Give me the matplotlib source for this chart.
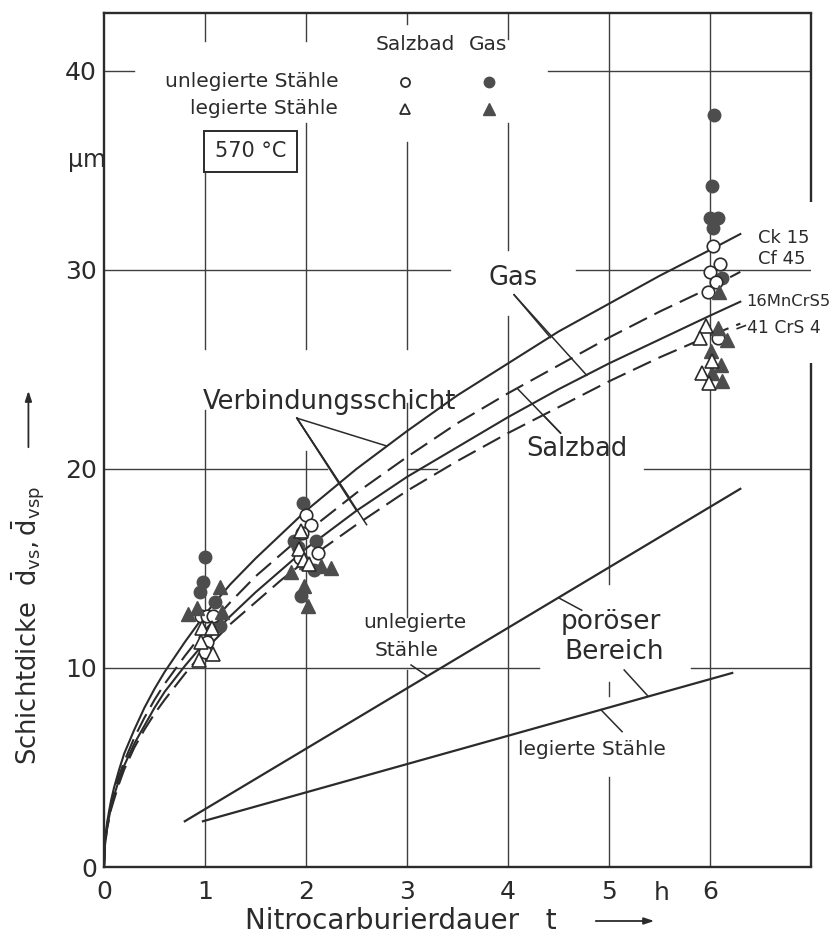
import matplotlib
matplotlib.use("Agg")
import matplotlib.pyplot as plt

# ---------------- data ----------------
t_curve = [0, 0.01, 0.03, 0.05, 0.07, 0.1, 0.15, 0.2, 0.3, 0.4, 0.5, 0.6, 0.8, 1.0,
           1.25, 1.5, 1.75, 2.0, 2.5, 3.0, 3.5, 4.0, 4.5, 5.0, 5.5, 6.0, 6.3]
gas_unleg_curve = [0, 1.3, 2.2, 2.8, 3.35, 4.0, 4.9, 5.7, 6.9, 8.0, 8.95, 9.8, 11.3, 12.7,
                   14.2, 15.5, 16.7, 17.9, 20.0, 21.9, 23.7, 25.3, 26.9, 28.3, 29.7, 31.0, 31.8]
salz_unleg_curve = [0, 1.2, 2.1, 2.7, 3.15, 3.8, 4.6, 5.3, 6.5, 7.5, 8.4, 9.2, 10.6, 11.9,
                    13.3, 14.6, 15.7, 16.8, 18.8, 20.6, 22.3, 23.8, 25.2, 26.6, 27.9, 29.1, 29.9]
gas_leg_curve = [0, 1.1, 1.95, 2.5, 3.0, 3.6, 4.4, 5.1, 6.2, 7.1, 8.0, 8.8, 10.1, 11.3,
                 12.6, 13.8, 14.9, 16.0, 17.9, 19.6, 21.1, 22.6, 24.0, 25.3, 26.5, 27.7, 28.4]
salz_leg_curve = [0, 1.1, 1.9, 2.4, 2.9, 3.4, 4.2, 4.9, 6.0, 6.9, 7.7, 8.4, 9.7, 10.9,
                  12.2, 13.3, 14.4, 15.4, 17.2, 18.9, 20.4, 21.8, 23.1, 24.4, 25.6, 26.7, 27.3]

# porous region limits (straight lines)
por_unleg_t = [0.8, 6.3]
por_unleg_d = [2.3, 19.0]
por_leg_t = [0.98, 6.22]
por_leg_d = [2.3, 9.75]

# measured points
gas_unleg_t = [1.0, 0.98, 0.95, 1.1, 1.15, 1.97, 1.88, 1.92, 2.1, 1.95, 2.08,
               6.04, 6.02, 6.0, 6.08, 6.03, 6.12]
gas_unleg_d = [15.6, 14.3, 13.8, 13.3, 12.1, 18.3, 16.4, 16.1, 16.4, 13.6, 14.9,
               37.8, 34.2, 32.6, 32.6, 32.1, 29.6]
salz_unleg_t = [0.96, 1.02, 1.08, 1.02, 1.0, 2.0, 2.05, 1.96, 2.12, 1.94,
                6.03, 6.1, 6.0, 6.06, 5.98, 6.08]
salz_unleg_d = [12.6, 12.6, 12.6, 11.3, 10.8, 17.7, 17.2, 16.8, 15.8, 15.5,
                31.2, 30.3, 29.9, 29.4, 28.9, 26.6]
gas_leg_t = [1.15, 0.83, 0.92, 1.17, 2.0, 2.15, 1.85, 2.25, 1.98, 2.02,
             6.09, 6.08, 6.17, 6.01, 6.11, 6.02, 6.12]
gas_leg_d = [14.05, 12.7, 13.0, 12.8, 15.3, 15.1, 14.8, 15.0, 14.1, 13.1,
             28.9, 27.1, 26.5, 25.9, 25.2, 24.8, 24.4]
salz_leg_t = [0.97, 1.07, 0.96, 1.08, 0.94, 1.95, 1.93, 1.98, 2.03,
              5.96, 5.9, 6.02, 5.92, 5.99]
salz_leg_d = [12.0, 12.0, 11.3, 10.7, 10.4, 16.9, 16.0, 15.4, 15.2,
              27.2, 26.6, 25.4, 24.8, 24.3]

x_ticks = [0, 1, 2, 3, 4, 5, 6]
y_ticks = [0, 10, 20, 30, 40]

# ---------------- figure ----------------
INK = "#2b2b2b"
GRID = "#3f3f3f"
FILL = "#4d4d4d"
plt.rcParams['font.family'] = ['DejaVu Sans']

fig = plt.figure(figsize=(8.36, 9.41), dpi=100)
ax = fig.add_axes([0.1244, 0.0786, 0.8457, 0.9075])
XMAX, YMAX = 7, 42.9
ax.set_xlim(0, XMAX)
ax.set_ylim(0, YMAX)

for name, s in ax.spines.items():
    s.set_color(INK)
    s.set_linewidth(1.7)
ax.spines['right'].set_visible(False)
# right border with a gap for the curve labels
for y0, y1 in [(0, 25.3), (33.4, YMAX)]:
    ax.plot([XMAX, XMAX], [y0, y1], color=INK, lw=1.7, clip_on=False, zorder=2,
            solid_capstyle="butt")

# grid drawn in pieces (the drawing leaves gaps around lettering)
vgrid = {
    1: [(0, 22.96), (26.0, 34.9), (41.5, YMAX)],
    2: [(0, 20.9), (26.0, 37.4), (41.5, YMAX)],
    3: [(0, 9.9), (12.55, 23.3), (26.0, 36.4), (42.35, YMAX)],
    4: [(0, 27.7), (31.0, 37.4), (41.6, YMAX)],
    5: [(0, 4.5), (8.6, 9.3), (14.2, YMAX)],
    6: [(0, YMAX)],
}
hgrid = {
    10: [(0, 4.31), (5.81, XMAX)],
    20: [(0, 2.21), (3.0, 3.3), (5.35, XMAX)],
    30: [(0, 3.43), (4.67, XMAX)],
    40: [(0, 0.3), (4.4, XMAX)],
}
for xv, segs in vgrid.items():
    for y0, y1 in segs:
        ax.plot([xv, xv], [y0, y1], color=GRID, lw=1.0, zorder=1)
for yv, segs in hgrid.items():
    for x0, x1 in segs:
        ax.plot([x0, x1], [yv, yv], color=GRID, lw=1.0, zorder=1)

ax.set_xticks(x_ticks)
ax.set_xticklabels([str(v) for v in x_ticks])
ax.set_yticks(y_ticks)
ax.set_yticklabels([str(v) for v in y_ticks])
ax.tick_params(length=0, labelsize=18, colors=INK, pad=5)
ax.tick_params(axis='x', pad=9)

# curves
lw = 1.5
dash = (0, (9.5, 4))
ax.plot(t_curve, gas_unleg_curve, color=INK, lw=lw, zorder=3)
ax.plot(t_curve, salz_unleg_curve, color=INK, lw=lw, ls=dash, zorder=3)
ax.plot(t_curve, gas_leg_curve, color=INK, lw=lw, zorder=3)
ax.plot(t_curve, salz_leg_curve, color=INK, lw=lw, ls=dash, zorder=3)
ax.plot(por_unleg_t, por_unleg_d, color=INK, lw=1.6, zorder=3)
ax.plot(por_leg_t, por_leg_d, color=INK, lw=1.6, zorder=3)

ms = 9
ax.plot(gas_unleg_t, gas_unleg_d, 'o', ms=ms, mfc=FILL, mec=FILL, zorder=5)
ax.plot(salz_unleg_t, salz_unleg_d, 'o', ms=ms, mfc="white", mec=INK, mew=1.2, zorder=5)
ax.plot(gas_leg_t, gas_leg_d, '^', ms=ms + 1, mfc=FILL, mec=FILL, zorder=5)
ax.plot(salz_leg_t, salz_leg_d, '^', ms=ms + 1, mfc="white", mec=INK, mew=1.2, zorder=5)

# legend block
FL = 14.5
ax.text(3.08, 41.3, "Salzbad", fontsize=FL, color=INK, ha="center", va="center", zorder=6)
ax.text(3.8, 41.3, "Gas", fontsize=FL, color=INK, ha="center", va="center", zorder=6)
ax.text(2.32, 39.45, "unlegierte Stähle", fontsize=FL, color=INK, ha="right", va="center", zorder=6)
ax.text(2.32, 38.1, "legierte Stähle", fontsize=FL, color=INK, ha="right", va="center", zorder=6)
ax.plot([2.98], [39.45], 'o', ms=6.5, mfc="white", mec=INK, mew=1.3, zorder=6)
ax.plot([3.81], [39.45], 'o', ms=7.5, mfc=FILL, mec=FILL, zorder=6)
ax.plot([2.98], [38.1], '^', ms=7, mfc="white", mec=INK, mew=1.3, zorder=6)
ax.plot([3.81], [38.1], '^', ms=8, mfc=FILL, mec=FILL, zorder=6)
ax.text(1.45, 35.95, "570 °C", fontsize=15, color=INK, ha="center", va="center", zorder=6,
        bbox=dict(boxstyle="square,pad=0.5", fc="white", ec=INK, lw=1.4))

ax.text(-0.17, 35.5, "µm", fontsize=17, color=INK, ha="center", va="center", clip_on=False)
ax.text(5.52, -1.32, "h", fontsize=18, color=INK, ha="center", va="center", clip_on=False)

# curve labels
FC = 13
ax.text(6.48, 31.6, "Ck 15", fontsize=FC, color=INK, ha="left", va="center", zorder=6)
ax.text(6.48, 30.55, "Cf 45", fontsize=FC, color=INK, ha="left", va="center", zorder=6)
ax.text(6.36, 28.4, "16MnCrS5", fontsize=11.8, color=INK, ha="left", va="center", zorder=6)
ax.text(6.37, 27.1, "41 CrS 4", fontsize=12.3, color=INK, ha="left", va="center", zorder=6)
ax.plot([6.27, 6.35], [27.05, 27.2], color=INK, lw=1.2, zorder=6)

ax.text(2.23, 23.35, "Verbindungsschicht", fontsize=18.5, color=INK, ha="center", va="center", zorder=6)
ax.text(4.05, 29.6, "Gas", fontsize=18.5, color=INK, ha="center", va="center", zorder=6)
ax.text(4.68, 21.0, "Salzbad", fontsize=18.5, color=INK, ha="center", va="center", zorder=6)
ax.text(3.08, 12.26, "unlegierte", fontsize=14.5, color=INK, ha="center", va="center", zorder=6)
ax.text(3.0, 10.9, "Stähle", fontsize=14.5, color=INK, ha="center", va="center", zorder=6)
ax.text(5.02, 12.3, "poröser", fontsize=19, color=INK, ha="center", va="center", zorder=6)
ax.text(5.05, 10.8, "Bereich", fontsize=19, color=INK, ha="center", va="center", zorder=6)
ax.text(4.83, 5.88, "legierte Stähle", fontsize=14.5, color=INK, ha="center", va="center", zorder=6)

# leader lines
lk = dict(color=INK, lw=1.1, zorder=4)
ax.plot([1.91, 2.8], [22.55, 21.15], **lk)
ax.plot([1.91, 2.43], [22.55, 18.55], **lk)
ax.plot([1.91, 2.5], [22.55, 17.9], **lk)
ax.plot([1.91, 2.6], [22.55, 17.2], **lk)
ax.plot([4.06, 4.42], [28.75, 26.6], **lk)
ax.plot([4.06, 4.78], [28.75, 24.7], **lk)
ax.plot([4.52, 4.1], [21.8, 24.0], **lk)
ax.plot([4.52, 4.35], [21.8, 22.7], **lk)
ax.plot([3.04, 3.2], [10.15, 9.6], **lk)
ax.plot([4.51, 4.73], [13.5, 12.9], **lk)
ax.plot([5.15, 5.38], [9.9, 8.62], **lk)
ax.plot([4.92, 5.13], [7.9, 6.8], **lk)

# axis labels
fig.text(0.034, 1 - 765 / 941, r"Schichtdicke  $\bar{\mathrm{d}}_{\mathrm{vs}}, \bar{\mathrm{d}}_{\mathrm{vsp}}$",
         rotation=90, fontsize=18.5, color=INK, ha="center", va="bottom")
ax.annotate("", xy=(0.034, 1 - 388 / 941), xytext=(0.034, 1 - 450 / 941),
            xycoords="figure fraction", textcoords="figure fraction", annotation_clip=False,
            arrowprops=dict(arrowstyle="-|>,head_length=0.6,head_width=0.2", color=INK, lw=1.3))
fig.text(245 / 836, 1 - 921 / 941, "Nitrocarburierdauer   t", fontsize=20, color=INK,
         ha="left", va="center")
ax.annotate("", xy=(657 / 836, 1 - 921 / 941), xytext=(593 / 836, 1 - 921 / 941),
            xycoords="figure fraction", textcoords="figure fraction", annotation_clip=False,
            arrowprops=dict(arrowstyle="-|>,head_length=0.6,head_width=0.2", color=INK, lw=1.3))

fig.savefig("out.png", dpi=100, facecolor="white")
